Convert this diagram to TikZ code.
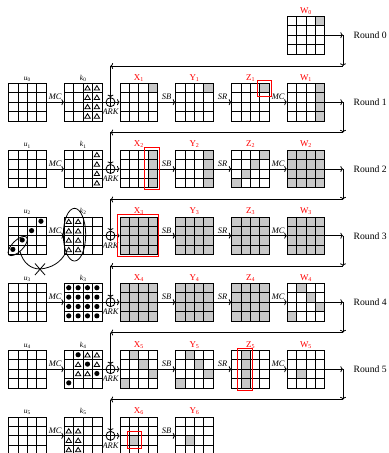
\documentclass[tikz,border=0pt]{standalone}
\usepackage{fontspec}
\setmainfont{Liberation Serif}
\usetikzlibrary{arrows.meta,positioning,shapes.geometric}
\definecolor{cellgrey}{HTML}{C8C8C8}
\tikzset{
  gridbox/.style={draw, rectangle, inner sep=0pt, minimum size=37.5bp},
  redtitle/.style={text=red, font=\fontsize{9}{9}\selectfont, inner sep=0pt, anchor=base},
  keytitle/.style={font=\fontsize{7.5}{8}\selectfont, inner sep=0pt, anchor=base},
  oplabel/.style={font=\fontsize{8.5}{9}\selectfont\itshape, inner sep=0pt},
  roundlabel/.style={font=\fontsize{9.7}{10}\selectfont, inner sep=0pt, anchor=west},
  xorbox/.style={draw, circle, inner sep=0pt, minimum size=9bp},
  redbox/.style={draw=red, line width=0.9bp, inner sep=0pt},
  ring/.style={draw, ellipse, inner sep=0pt}
}
% one grid: name, centre x, centre y, grey cells, title style, title
\newcommand{\stategrid}[6]{
  \edef\celllist{#4}
  \begin{scope}[shift={(#2-18.75,#3-18.75)}]
    \foreach \cx/\ry in \celllist {\fill[cellgrey] (\cx*9.375,\ry*9.375) rectangle ++(9.375,9.375);}
    \foreach \i in {1,2,3}{
      \draw (\i*9.375,0) -- (\i*9.375,37.5);
      \draw (0,\i*9.375) -- (37.5,\i*9.375);
    }
  \end{scope}
  \node [gridbox] (#1) at (#2,#3) {};
  \node [#5] (#1t) at (#2,#3-22) {#6};
}
\newcommand{\trimarks}[2]{
  \edef\celllist{#2}
  \begin{scope}[shift={(#1.north west)}]
    \foreach \cx/\ry in \celllist {\draw [line width=0.8bp] (\cx*9.375+2,\ry*9.375+7) -- ++(5.4,0) -- ++(-2.7,-4.4) -- cycle;}
  \end{scope}
}
\newcommand{\dotmarks}[2]{
  \edef\celllist{#2}
  \begin{scope}[shift={(#1.north west)}]
    \foreach \cx/\ry in \celllist {\fill (\cx*9.375+4.69,\ry*9.375+4.69) circle (2.6);}
  \end{scope}
}
\newcommand{\idx}[1]{\textsubscript{#1}}
\begin{document}
\begin{tikzpicture}[x=1bp, y=-1bp, >={To[length=2.6bp,width=6bp]}, line width=0.8bp]
  \useasboundingbox (0,0) rectangle (388,453);

  % Grey diagonals and full states
  \def\fullcells{0/0,1/0,2/0,3/0,0/1,1/1,2/1,3/1,0/2,1/2,2/2,3/2,0/3,1/3,2/3,3/3}
  \def\diagcells{1/0,2/1,3/2,0/3}

  % Round 0
  \stategrid{w0}{306}{35.2}{3/0}{redtitle}{W\idx{0}}

  % Round 1
  \stategrid{u1}{27.3}{102.2}{}{keytitle}{\textit{u}\idx{0}}
  \stategrid{k1}{83.2}{102.2}{}{keytitle}{\textit{k}\idx{0}}
  \stategrid{x1}{138.8}{102.2}{3/0}{redtitle}{X\idx{1}}
  \stategrid{y1}{194.5}{102.2}{3/0}{redtitle}{Y\idx{1}}
  \stategrid{z1}{250.5}{102.2}{3/0}{redtitle}{Z\idx{1}}
  \stategrid{w1}{306}{102.2}{3/0,3/1,3/2,3/3}{redtitle}{W\idx{1}}
  \trimarks{k1}{2/0,3/0,2/1,3/1,2/2,3/2,2/3,3/3}

  % Round 2
  \stategrid{u2}{27.3}{169}{}{keytitle}{\textit{u}\idx{1}}
  \stategrid{k2}{83.2}{169}{}{keytitle}{\textit{k}\idx{1}}
  \stategrid{x2}{138.8}{169}{3/0,3/1,3/2,3/3}{redtitle}{X\idx{2}}
  \stategrid{y2}{194.5}{169}{3/0,3/1,3/2,3/3}{redtitle}{Y\idx{2}}
  \stategrid{z2}{250.5}{169}{3/0,2/1,1/2,0/3}{redtitle}{Z\idx{2}}
  \stategrid{w2}{306}{169}{\fullcells}{redtitle}{W\idx{2}}
  \trimarks{k2}{3/0,3/1,3/2,3/3}

  % Round 3
  \stategrid{u3}{27.3}{235.7}{}{keytitle}{\textit{u}\idx{2}}
  \stategrid{k3}{83.2}{235.7}{}{keytitle}{\textit{k}\idx{2}}
  \stategrid{x3}{138.8}{235.7}{\fullcells}{redtitle}{X\idx{3}}
  \stategrid{y3}{194.5}{235.7}{\fullcells}{redtitle}{Y\idx{3}}
  \stategrid{z3}{250.5}{235.7}{\fullcells}{redtitle}{Z\idx{3}}
  \stategrid{w3}{306}{235.7}{\fullcells}{redtitle}{W\idx{3}}
  \dotmarks{u3}{3/0,2/1,1/2,0/3}
  \trimarks{k3}{0/0,1/0,0/1,1/1,0/2,1/2,0/3,1/3}

  % Round 4
  \stategrid{u4}{27.3}{302.2}{}{keytitle}{\textit{u}\idx{3}}
  \stategrid{k4}{83.2}{302.2}{}{keytitle}{\textit{k}\idx{3}}
  \stategrid{x4}{138.8}{302.2}{\fullcells}{redtitle}{X\idx{4}}
  \stategrid{y4}{194.5}{302.2}{\fullcells}{redtitle}{Y\idx{4}}
  \stategrid{z4}{250.5}{302.2}{\fullcells}{redtitle}{Z\idx{4}}
  \stategrid{w4}{306}{302.2}{\diagcells}{redtitle}{W\idx{4}}
  \dotmarks{k4}{\fullcells}

  % Round 5
  \stategrid{u5}{27.3}{369.2}{}{keytitle}{\textit{u}\idx{4}}
  \stategrid{k5}{83.2}{369.2}{}{keytitle}{\textit{k}\idx{4}}
  \stategrid{x5}{138.8}{369.2}{\diagcells}{redtitle}{X\idx{5}}
  \stategrid{y5}{194.5}{369.2}{\diagcells}{redtitle}{Y\idx{5}}
  \stategrid{z5}{250.5}{369.2}{1/0,1/1,1/2,1/3}{redtitle}{Z\idx{5}}
  \stategrid{w5}{306}{369.2}{1/2}{redtitle}{W\idx{5}}
  \dotmarks{k5}{1/0,2/1,3/2,0/3}
  \trimarks{k5}{2/0,3/0,1/1,3/1,1/2,2/2}

  % Round 6
  \stategrid{u6}{27.3}{435.8}{}{keytitle}{\textit{u}\idx{5}}
  \stategrid{k6}{83.2}{435.8}{}{keytitle}{\textit{k}\idx{5}}
  \stategrid{x6}{138.8}{435.8}{1/2}{redtitle}{X\idx{6}}
  \stategrid{y6}{194.5}{435.8}{1/2}{redtitle}{Y\idx{6}}
  \trimarks{k6}{0/1,1/1,0/2,1/2,0/3,1/3}

  % Paths
  \foreach \n/\ymid/\yback in {1/102.2/66,2/169/132.5,3/235.7/199.5,4/302.2/266,5/369.2/332.5,6/435.8/399.5}{
    \node [xorbox] (xor\n) at (110.5,\ymid) {};
    \draw (xor\n.north) -- (xor\n.south);
    \draw (xor\n.west) -- (xor\n.east);
    \node [oplabel] (ark\n) at (110.5,\ymid+10) {ARK};
    \coordinate (back\n) at (343,\yback);
    \coordinate (turn\n) at (110.5,\yback);
    \draw [->] (u\n) -- node [oplabel, above=2bp] (mc\n) {MC} (k\n);
    \draw (k\n) -- (xor\n);
    \draw [->] (xor\n) -- (x\n);
    \draw [->] (x\n) -- node [oplabel, above=2bp] (sb\n) {SB} (y\n);
    \draw [->] (back\n) -- (turn\n);
    \draw [->] (turn\n) -- (xor\n);
  }
  \foreach \n/\m/\ymid in {0/1/35.2,1/2/102.2,2/3/169,3/4/235.7,4/5/302.2,5/6/369.2}{
    \coordinate (end\n) at (343,\ymid);
    \node [roundlabel] (round\n) at (353.3,\ymid) {Round \n};
    \draw [->] (w\n) -- (end\n);
    \draw [->] (end\n) -- (back\m);
  }
  \foreach \n in {1,...,5}{
    \draw [->] (y\n) -- node [oplabel, above=2bp] (sr\n) {SR} (z\n);
    \draw [->] (z\n) -- node [oplabel, above=2bp] (mcb\n) {MC} (w\n);
  }

  % Rings and crossing lines
  \node [ring, minimum width=25bp, minimum height=11bp, rotate=45] (ringa) at (17.7,246) {};
  \node [ring, minimum width=22.4bp, minimum height=52.7bp] (ringb) at (74.5,234.7) {};
  \coordinate (ringafoot) at (20,251.5);
  \coordinate (ringbfoot) at (65.5,253);
  \coordinate (crossc) at (40,269);
  \coordinate (crossnw) at (35,263.5);
  \coordinate (crossse) at (45,275);
  \coordinate (crossne) at (45,263.5);
  \coordinate (crosssw) at (35,275);
  \draw (ringafoot) .. controls (23,263) and (31,269) .. (crossc);
  \draw (ringbfoot) .. controls (61,262) and (52,268) .. (crossc);
  \draw (crossnw) -- (crossse);
  \draw (crossne) -- (crosssw);

  % Red frames
  \node [redbox, minimum width=14.4bp, minimum height=16.3bp] (framea) at (264.5,88.2) {};
  \node [redbox, minimum width=14.3bp, minimum height=42.3bp] (frameb) at (151.9,168.2) {};
  \node [redbox, minimum width=41.7bp, minimum height=42.4bp] (framec) at (137.9,235.5) {};
  \node [redbox, minimum width=14.3bp, minimum height=42.3bp] (framed) at (244.9,369.2) {};
  \node [redbox, minimum width=14bp, minimum height=16.3bp] (framee) at (134.7,439.9) {};
\end{tikzpicture}
\end{document}
